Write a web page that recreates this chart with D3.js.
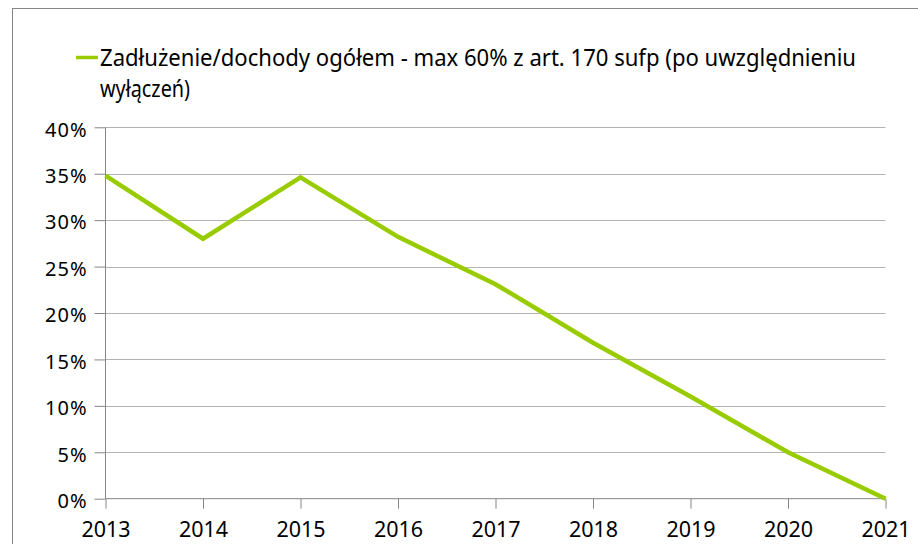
<!DOCTYPE html>
<html>
<head>
<meta charset="utf-8">
<script src="https://cdn.jsdelivr.net/npm/d3@7"></script>
<style>
  html, body { margin: 0; padding: 0; background: #fff; }
  svg { display: block; }
  text { font-family: "Noto Sans", "Open Sans", sans-serif; fill: #000; }
</style>
</head>
<body>
<svg id="chart" width="918" height="544"></svg>
<script>
const years = [2013, 2014, 2015, 2016, 2017, 2018, 2019, 2020, 2021];
const values = [34.8, 28.0, 34.6, 28.2, 23.1, 16.8, 11.0, 5.0, 0.0];
const yTicks = [0, 5, 10, 15, 20, 25, 30, 35, 40];
const seriesName = "Zadłużenie/dochody ogółem - max 60% z art. 170 sufp (po uwzględnieniu";
const seriesName2 = "wyłączeń)";

(function () {
const svg = d3.select("#chart");
const W = 918, H = 544;
const pLeft = 105.5, pRight = 885.5, pTop = 127.3, pBottom = 498.7;

// outer frame (extends beyond the visible area on right/bottom)
svg.append("rect")
  .attr("x", 12.5).attr("y", 8.5)
  .attr("width", W + 20).attr("height", H + 20)
  .attr("fill", "none").attr("stroke", "#868686").attr("stroke-width", 1);

const x = d3.scalePoint().domain(years).range([pLeft, pRight]);
const y = d3.scaleLinear().domain([0, 40]).range([pBottom, pTop]);

// gridlines
svg.append("g").selectAll("line").data(yTicks.filter(d => d > 0)).join("line")
  .attr("x1", pLeft).attr("x2", pRight)
  .attr("y1", d => Math.round(y(d)) + 0.5).attr("y2", d => Math.round(y(d)) + 0.5)
  .attr("stroke", "#b3b3b3").attr("stroke-width", 1);

// y axis
const yAxis = d3.axisLeft(y).tickValues(yTicks).tickSize(11).tickPadding(7)
  .tickFormat(d => d + "%");
const gy = svg.append("g").attr("transform", `translate(${pLeft},0)`).call(yAxis);
gy.select(".domain").attr("stroke", "#868686").attr("d", `M0,${pTop}V${pBottom}`);
gy.selectAll(".tick line").attr("stroke", "#868686");
gy.selectAll(".tick text").attr("font-size", 20).attr("letter-spacing", 1)
  .attr("dy", "0.44em").attr("font-family", "'Noto Sans', sans-serif").attr("fill", "#000");

// x axis
const xAxis = d3.axisBottom(x).tickSize(10).tickPadding(13.5).tickFormat(d3.format("d"));
const gx = svg.append("g").attr("transform", `translate(0,${pBottom})`).call(xAxis);
gx.select(".domain").attr("stroke", "#868686").attr("d", `M${pLeft},0H${pRight}`);
gx.selectAll(".tick line").attr("stroke", "#868686");
gx.selectAll(".tick text").attr("font-size", 21.5)
  .attr("font-family", "'Noto Sans', sans-serif").attr("fill", "#000");

// line
const line = d3.line().x((d, i) => x(years[i])).y(d => y(d));
svg.append("path").datum(values)
  .attr("d", line)
  .attr("fill", "none")
  .attr("stroke", "#99cc00")
  .attr("stroke-width", 4.5)
  .attr("stroke-linejoin", "miter");

// legend
const lg = svg.append("g");
lg.append("line").attr("x1", 76).attr("x2", 98).attr("y1", 57.5).attr("y2", 57.5)
  .attr("stroke", "#99cc00").attr("stroke-width", 3.5);
lg.append("g").attr("transform", "translate(100,66) scale(1,1.15)")
  .append("text").attr("x", 0).attr("y", 0).attr("font-size", 20.5)
  .attr("textLength", 756).attr("lengthAdjust", "spacingAndGlyphs")
  .text(seriesName);
lg.append("g").attr("transform", "translate(100,97) scale(1,1.15)")
  .append("text").attr("x", 0).attr("y", 0).attr("font-size", 20.5)
  .attr("textLength", 90).attr("lengthAdjust", "spacingAndGlyphs")
  .text(seriesName2);
})();
</script>
</body>
</html>
